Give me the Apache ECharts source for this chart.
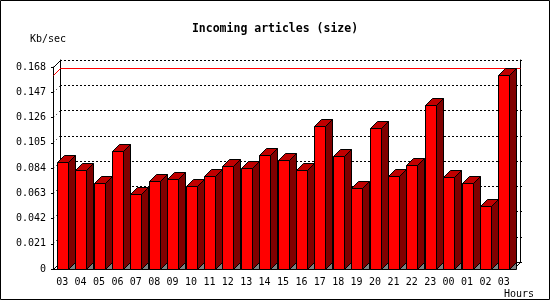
<!DOCTYPE html>
<html>
<head>
<meta charset="utf-8">
<script src="https://cdn.jsdelivr.net/npm/echarts@6/dist/echarts.min.js"></script>
<style>html,body{margin:0;padding:0;background:#fff}#c{width:550px;height:300px}</style>
</head>
<body>
<div id="c"></div>
<script>
const titleText = 'Incoming articles (size)';
const yName = 'Kb/sec';
const xName = 'Hours';
const hours = ['03','04','05','06','07','08','09','10','11','12','13','14','15','16','17','18','19','20','21','22','23','00','01','02','03'];
const rates = [0.0883,0.0817,0.0709,0.0975,0.0617,0.0725,0.0742,0.0684,0.0767,0.0850,0.0833,0.0941,0.0900,0.0817,0.1183,0.0933,0.0667,0.1166,0.0767,0.0858,0.1357,0.0758,0.0709,0.0517,0.1609];
const yMin = 0, yMax = 0.168, yStep = 0.021;

const FONT = 'DejaVu Sans Mono';
const D = 7;        // 3D depth in px
const FRONT_W = 11; // bar front width
const maxRate = Math.max(...rates);

const chart = echarts.init(document.getElementById('c'), null, {renderer: 'canvas'});
const snap = v => Math.round(v - 0.5) + 0.5;

function renderBar(params, api) {
  const i = api.value(0), v = api.value(1);
  const top = api.coord([i, v]);
  const base = api.coord([i, 0]);
  const L = Math.round(top[0] - 5.5) + 0.5;
  const R = L + FRONT_W;
  const T = snap(top[1]);
  const B = snap(base[1]);
  const ls = {stroke: '#000', lineWidth: 1};
  return {
    type: 'group',
    children: [
      {type: 'polygon', shape: {points: [[R, B], [R + D, B - D], [R + D, B]]}, style: Object.assign({fill: '#808080'}, ls)},
      {type: 'polygon', shape: {points: [[R, B], [R, T], [R + D, T - D], [R + D, B - D]]}, style: Object.assign({fill: '#800000'}, ls)},
      {type: 'polygon', shape: {points: [[L, T], [L + D, T - D], [R + D, T - D], [R, T]]}, style: Object.assign({fill: '#c00000'}, ls)},
      {type: 'rect', shape: {x: L, y: T, width: R - L, height: B - T}, style: Object.assign({fill: '#ff0000'}, ls)}
    ]
  };
}

function renderFrame(params, api) {
  const cs = params.coordSys;
  const x0 = snap(cs.x + 0.5), x1 = snap(cs.x + cs.width + 0.5);
  const yTop = snap(cs.y + 0.5), yBot = snap(cs.y + cs.height + 0.5);
  const children = [];
  for (let k = 1; yMin + k * yStep < yMax - 1e-9; k++) {
    const y = snap(api.coord([0, yMin + k * yStep])[1]);
    children.push({type: 'line', shape: {x1: x0, y1: y, x2: x0 + D, y2: y - D}, style: {stroke: '#000', lineWidth: 1, lineDash: [1, 3]}});
  }
  children.push({type: 'line', shape: {x1: x0, y1: yTop, x2: x0 + D, y2: yTop - D}, style: {stroke: '#000', lineWidth: 1}});
  children.push({type: 'line', shape: {x1: x0, y1: yBot, x2: x0 + D, y2: yBot - D}, style: {stroke: '#000', lineWidth: 1}});
  children.push({type: 'line', shape: {x1: x1, y1: yBot, x2: x1 + D, y2: yBot - D}, style: {stroke: '#000', lineWidth: 1}});
  // maximum line: across the left wall, then along the back wall
  const ym = snap(api.coord([0, api.value(1)])[1]);
  children.push({type: 'line', shape: {x1: x0, y1: ym, x2: x0 + D, y2: ym - D}, style: {stroke: '#ff0000', lineWidth: 1}});
  children.push({type: 'line', shape: {x1: x0 + D, y1: ym - D, x2: x1 + D, y2: ym - D}, style: {stroke: '#ff0000', lineWidth: 1}});
  return {type: 'group', children};
}

chart.setOption({
  animation: false,
  backgroundColor: '#fff',
  textStyle: {fontFamily: FONT},
  title: {
    text: titleText, left: 'center', top: 23, padding: 0,
    textStyle: {fontFamily: FONT, fontWeight: 'bold', fontSize: 11.5, color: '#000'}
  },
  grid: [
    {left: 53, top: 67, width: 460, height: 202},
    {left: 60, top: 60, width: 460, height: 202}
  ],
  xAxis: [
    {gridIndex: 0, type: 'category', data: hours,
      axisLine: {lineStyle: {color: '#000', width: 1}},
      axisTick: {length: 3, lineStyle: {color: '#000'}},
      axisLabel: {color: '#000', fontSize: 10, fontFamily: FONT, margin: 8, interval: 0}},
    {gridIndex: 1, type: 'category', data: hours, position: 'top',
      axisLine: {show: true, lineStyle: {color: '#000', width: 1}},
      axisTick: {show: false}, axisLabel: {show: false}, splitLine: {show: false}}
  ],
  yAxis: [
    {gridIndex: 0, type: 'value', min: yMin, max: yMax, interval: yStep,
      axisLine: {show: true, lineStyle: {color: '#000'}},
      axisTick: {show: true, length: 2, lineStyle: {color: '#000'}},
      splitLine: {show: false},
      axisLabel: {color: '#000', fontSize: 10, fontFamily: FONT, margin: 7,
        formatter: v => v === 0 ? '0' : v.toFixed(3)}},
    {gridIndex: 1, type: 'value', min: yMin, max: yMax, interval: yStep,
      axisLine: {show: true, lineStyle: {color: '#000'}}, axisTick: {show: false}, axisLabel: {show: false},
      splitLine: {show: true, lineStyle: {color: '#000', width: 1, type: [2, 2]}}},
    {gridIndex: 1, type: 'value', position: 'right', min: yMin, max: yMax, interval: yStep,
      axisLine: {show: true, lineStyle: {color: '#000'}}, axisLabel: {show: false}, splitLine: {show: false},
      axisTick: {show: true, length: 2, lineStyle: {color: '#000'}}}
  ],
  graphic: [
    {type: 'rect', shape: {x: 0.5, y: 0.5, width: 549, height: 299}, style: {fill: null, stroke: '#000', lineWidth: 1}, silent: true, z: 100},
    {type: 'text', x: 30, y: 39.5, style: {text: yName, fontFamily: FONT, fontSize: 10, fill: '#000', verticalAlign: 'middle', align: 'left'}},
    {type: 'text', x: 534, y: 294, style: {text: xName, fontFamily: FONT, fontSize: 10, fill: '#000', verticalAlign: 'middle', align: 'right'}}
  ],
  series: [
    {type: 'custom', xAxisIndex: 0, yAxisIndex: 0, z: 1, renderItem: renderFrame, data: [[0, maxRate]], silent: true},
    {type: 'custom', xAxisIndex: 0, yAxisIndex: 0, z: 2, renderItem: renderBar,
      data: rates.map((v, i) => [i, v]), encode: {x: 0, y: 1}}
  ]
});
</script>
</body>
</html>
